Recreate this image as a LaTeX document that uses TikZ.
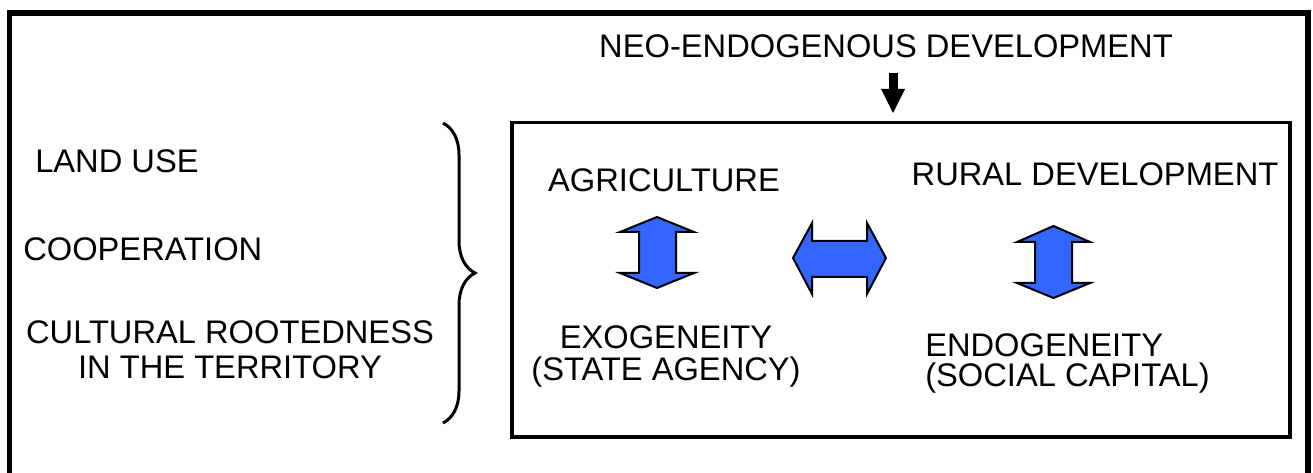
\documentclass[tikz,border=0pt]{standalone}
\usepackage{fontspec}
\setmainfont{Liberation Sans}
\usetikzlibrary{arrows.meta}
\usetikzlibrary{decorations.pathreplacing}
\usetikzlibrary{positioning}

\definecolor{arrowblue}{RGB}{51,102,255}

\begin{document}
\begin{tikzpicture}
        [x=0.75pt, y=-0.75pt,
         txt/.style={inner sep=0pt, font=\fontsize{24.5pt}{24pt}\selectfont},
         blockarrow/.style={draw=black, line width=1.5pt, fill=arrowblue, line join=miter},
         fatarrow/.style={line width=6.75pt, -{Triangle[width=18pt, length=18pt, line width=0pt]}},
         curly/.style={line width=2.25pt, decorate, decoration={brace, amplitude=24pt}}]
        \useasboundingbox (0,0) rectangle (1313,473);
        % outer frame, open at the bottom
        \draw [line width=4.1pt] (9.5,473) -- (9.5,13) -- (1308,13) -- (1308,473);

        \node [txt, anchor=base] (neo) at (886,58) {NEO-ENDOGENOUS DEVELOPMENT};
        \node [draw, line width=2.6pt, inner sep=0pt, minimum width=583.5pt, minimum height=235.9pt] (inner) at (901,279.75) {};
        \coordinate (tip) at (893,113);
        \draw [fatarrow, shorten <=10.5pt] (neo.south -| tip) -- (tip);

        % left column
        \node [txt, anchor=base west] (landuse) at (35,173) {LAND USE};
        \node [txt, anchor=base west] (coop) at (23,261) {COOPERATION};
        \node [txt, anchor=north, align=center, font=\fontsize{24.5pt}{26.25pt}\selectfont] (roots) at (230,320) {CULTURAL ROOTEDNESS\\IN THE TERRITORY};
        \coordinate (bracetop) at (443,123);
        \coordinate (bracebot) at (443,423);
        \draw [curly] (bracetop) -- (bracebot);

        % inside the box
        \node [txt, anchor=base] (agri) at (664,192) {AGRICULTURE};
        \node [txt, anchor=base] (rural) at (1095,186) {RURAL DEVELOPMENT};
        \node [txt, anchor=north, align=center] (exo) at (666,325) {EXOGENEITY\\(STATE AGENCY)};
        \node [txt, anchor=north west, align=left, font=\fontsize{24.5pt}{22.5pt}\selectfont] (endo) at (925,333) {ENDOGENEITY\\(SOCIAL CAPITAL)};

        \draw [blockarrow] (657,217) -- (694,232) -- (676,232) -- (676,273) -- (694,273) -- (657,288)
                -- (620,273) -- (639,273) -- (639,232) -- (620,232) -- cycle;
        \draw [blockarrow] (793,258) -- (812,223) -- (812,241) -- (867,241) -- (867,223) -- (886,258)
                -- (867,294) -- (867,277) -- (812,277) -- (812,294) -- cycle;
        \draw [blockarrow] (1053.5,226) -- (1090,242) -- (1072,242) -- (1072,283) -- (1090,283) -- (1053.5,298)
                -- (1017,283) -- (1035,283) -- (1035,242) -- (1017,242) -- cycle;
    \end{tikzpicture}
\end{document}
